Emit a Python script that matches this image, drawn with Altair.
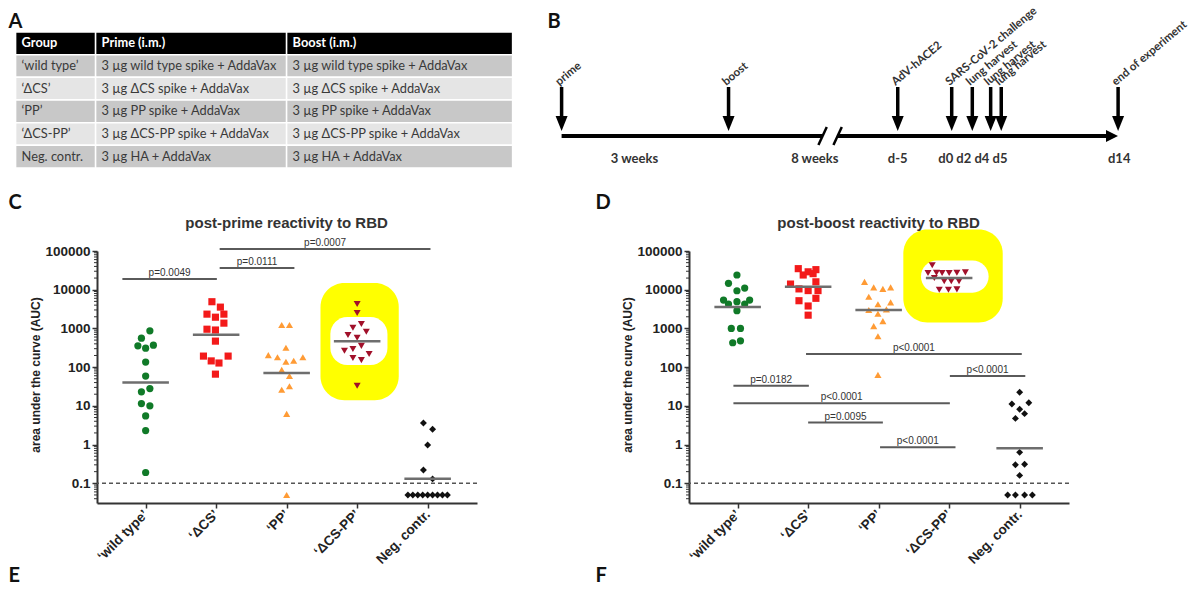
import json
import altair as alt
import pandas as pd

# ---------------- groups ----------------
GROUPS = ["‘wild type’", "‘ΔCS’", "‘PP’", "‘ΔCS-PP’", "Neg. contr."]
GROUP_COLORS = ["#107a28", "#f31a1a", "#ff9b35", "#a1102a", "#111111"]
GROUP_SHAPES = ["circle", "square", "triangle-up", "triangle-down", "diamond"]
GROUP_SIZES = [52, 48, 62, 62, 44]

# ---------------- panel C: post-prime AUC ----------------
PRIME_WT = [870, 560, 355, 310, 370, 135, 59, 28, 23, 11.5, 10, 5.5, 2.3, 0.19]
PRIME_WT_JIT = [0.06, -0.06, -0.11, 0.0, 0.11, 0.0, 0.0, 0.06, -0.06, -0.06, 0.06, 0.0, 0.0, 0.0]
PRIME_DCS = [4900, 3550, 2340, 1950, 2340, 1370, 955, 910, 470, 193, 145, 128, 193, 66]
PRIME_DCS_JIT = [-0.06, 0.06, -0.13, -0.01, 0.11, 0.11, -0.13, -0.01, -0.01, -0.18, -0.07, 0.04, 0.17, -0.01]
PRIME_PP = [1230, 1230, 316, 205, 180, 138, 146, 180, 85, 59, 32, 26, 6.2, 0.05]
PRIME_PP_JIT = [-0.07, 0.04, -0.01, -0.26, -0.13, -0.01, 0.10, 0.23, -0.07, 0.04, 0.04, -0.07, 0.0, 0.0]
PRIME_DCSPP = [4300, 2500, 1300, 1040, 820, 675, 575, 355, 265, 295, 218, 173, 152, 33]
PRIME_DCSPP_JIT = [0.0, 0.0, 0.06, -0.06, 0.13, -0.13, 0.0, 0.06, -0.18, -0.06, 0.17, -0.06, 0.06, 0.0]
PRIME_NEG = [3.6, 2.5, 0.98, 0.22, 0.13, 0.05, 0.05, 0.05, 0.05, 0.05, 0.05, 0.05, 0.05, 0.05]
PRIME_NEG_JIT = [-0.06, 0.07, 0.0, -0.06, 0.07, -0.28, -0.21, -0.14, -0.07, 0.0, 0.07, 0.14, 0.21, 0.28]

PRIME_SIG_FROM = [-0.33, 1.05, 1.05]
PRIME_SIG_TO = [1.01, 2.11, 4.04]
PRIME_SIG_Y = [18900, 36400, 112700]
PRIME_SIG_TEXT = ["p=0.0049", "p=0.0111", "p=0.0007"]

# ---------------- panel D: post-boost AUC ----------------
BOOST_WT = [24000, 14600, 11000, 9400, 5400, 4250, 4900, 4250, 5400, 2870, 1000, 1000, 427, 480]
BOOST_WT_JIT = [-0.01, -0.13, 0.10, -0.01, -0.20, -0.13, -0.01, 0.10, 0.17, -0.01, -0.09, 0.04, -0.07, 0.04]
BOOST_DCS = [35000, 29000, 33000, 24000, 26000, 14000, 16000, 10500, 9500, 9500, 5200, 6000, 3800, 2200]
BOOST_DCS_JIT = [-0.14, 0.0, 0.11, -0.07, 0.07, -0.25, 0.11, -0.13, 0.0, 0.14, -0.13, 0.11, 0.0, 0.0]
BOOST_PP = [16000, 11500, 10500, 11500, 6600, 4200, 4700, 3100, 3000, 2400, 1550, 1150, 630, 63]
BOOST_PP_JIT = [-0.20, -0.07, 0.06, 0.17, -0.14, -0.01, 0.17, 0.11, -0.14, -0.01, 0.06, -0.07, -0.01, -0.01]
BOOST_DCSPP = [43000, 27000, 27500, 27000, 27000, 27500, 28000, 20000, 16500, 16500, 16500, 10000, 10000, 10200]
BOOST_DCSPP_JIT = [-0.24, -0.30, -0.18, -0.10, 0.0, 0.11, 0.23, -0.21, -0.07, 0.03, 0.14, -0.14, -0.01, 0.11]
BOOST_NEG = [22.4, 11.2, 12, 8.2, 4.75, 6.3, 0.63, 0.3, 0.31, 0.16, 0.05, 0.05, 0.05, 0.05]
BOOST_NEG_JIT = [0.0, -0.11, 0.13, 0.0, -0.06, 0.07, 0.0, -0.06, 0.07, 0.0, -0.17, -0.06, 0.07, 0.18]

BOOST_SIG_FROM = [0.97, 3.01, -0.06, -0.06, 1.0, 2.02]
BOOST_SIG_TO = [4.03, 4.08, 1.01, 3.01, 2.06, 3.09]
BOOST_SIG_Y = [218, 59, 33, 11.7, 3.7, 0.85]
BOOST_SIG_TEXT = ["p<0.0001", "p<0.0001", "p=0.0182", "p<0.0001", "p=0.0095", "p<0.0001"]

# ---------------- table A ----------------
TABLE_HEADER = ["Group", "Prime (i.m.)", "Boost (i.m.)"]
TABLE_GROUP = ["‘wild type’", "‘ΔCS’", "‘PP’", "‘ΔCS-PP’", "Neg. contr."]
TABLE_PRIME = ["3 µg wild type spike + AddaVax", "3 µg ΔCS spike + AddaVax", "3 µg PP spike + AddaVax",
               "3 µg ΔCS-PP spike + AddaVax", "3 µg HA + AddaVax"]
TABLE_BOOST = ["3 µg wild type spike + AddaVax", "3 µg ΔCS spike + AddaVax", "3 µg PP spike + AddaVax",
               "3 µg ΔCS-PP spike + AddaVax", "3 µg HA + AddaVax"]

# ---------------- timeline B (schematic positions, 0 = prime, 100 = d14) ----------------
TL_EVENT_LABELS = ["prime", "boost", "AdV-hACE2", "SARS-CoV-2 challenge",
                   "lung harvest", "lung harvest", "lung harvest", "end of experiment"]
TL_EVENT_POS = [0.0, 30.0, 60.4, 70.1, 73.8, 77.1, 79.0, 100.0]
TL_SPAN_LABELS = ["3 weeks", "8 weeks", "d-5", "d0 d2 d4 d5", "d14"]
TL_SPAN_POS = [13.1, 45.5, 60.4, 73.9, 100.2]
TL_BREAK_POS = [46.9, 49.6]
TL_LINE_FROM = [0.0, 49.6]
TL_LINE_TO = [46.9, 98.0]
TL_TIP_POS = [98.9]

# ---------------- layout / style constants ----------------
W, H = 380, 252
X_DOMAIN = [-0.69, 4.7]
Y_DOMAIN = [0.031, 100000]
MAJOR_TICKS = [0.1, 1, 10, 100, 1000, 10000, 100000]
MINOR_TICKS = [m * 10.0 ** e for e in range(-2, 5) for m in range(2, 10)
               if Y_DOMAIN[0] <= m * 10.0 ** e <= Y_DOMAIN[1]]
HL_PRIME = dict(yx1=2.48, yx2=3.59, yy1=14, yy2=14900, wx1=2.62, wx2=3.43, wy1=113, wy2=1970)
HL_BOOST = dict(yx1=2.35, yx2=3.76, yy1=1420, yy2=359000, wx1=2.60, wx2=3.56, wy1=8400, wy2=57000)
COL_EDGES = [0, 80, 271, 497]
ROW_FILLS = ["#000000", "#c8c8c8", "#e5e5e5", "#c8c8c8", "#e5e5e5", "#c8c8c8"]
AXIS_FONT = "Liberation Sans"


def xs():
    return alt.Scale(domain=X_DOMAIN, nice=False, zero=False)


def ys():
    return alt.Scale(type="log", domain=Y_DOMAIN, nice=False)


X_AXIS = alt.Axis(values=[0, 1, 2, 3, 4],
                  labelExpr=json.dumps(GROUPS, ensure_ascii=False) + "[datum.value]",
                  labelAngle=315, labelAlign="right", labelBaseline="middle", labelPadding=4,
                  labelFont=AXIS_FONT, labelFontSize=13.5, labelFontWeight="bold", labelColor="#222",
                  labelFlush=False, labelOverlap=False,
                  tickSize=5, tickWidth=1.5, tickColor="#333",
                  domainColor="#333", domainWidth=2, grid=False, title=None)
Y_AXIS = alt.Axis(values=MAJOR_TICKS, format="~g",
                  labelFont=AXIS_FONT, labelFontSize=13.5, labelFontWeight="bold", labelColor="#222",
                  labelPadding=2, labelFlush=False, labelOverlap=False,
                  tickSize=5, tickWidth=1.5, tickColor="#333",
                  domainColor="#333", domainWidth=2, grid=False, title=None)


def group_frame(value_lists, jitter_lists):
    rows = []
    for gi, (vals, jits) in enumerate(zip(value_lists, jitter_lists)):
        for v, j in zip(vals, jits):
            rows.append({"group": GROUPS[gi], "gidx": gi, "value": v, "jitter": j})
    return pd.DataFrame(rows)


def sig_frame(a, b, y, t):
    return pd.DataFrame({"x1": a, "x2": b, "y": y, "label": t})


def text_at(text, x, y, **kw):
    return alt.Chart(pd.DataFrame({"t": [text]})).mark_text(**kw).encode(
        text="t:N", x=alt.value(x), y=alt.value(y))


def letter(t, x, y):
    return text_at(t, x, y, font="Lato", fontWeight="bold", fontSize=20, color="#111",
                   align="left", baseline="top")


def dot_layers(df, sig, hl, title):
    hl_df = pd.DataFrame([hl])
    yellow = alt.Chart(hl_df).mark_rect(color="#ffff00", cornerRadius=24).encode(
        x=alt.X("yx1:Q", scale=xs(), axis=None), x2="yx2:Q",
        y=alt.Y("yy1:Q", scale=ys(), axis=None), y2="yy2:Q")
    white = alt.Chart(hl_df).mark_rect(color="#ffffff", cornerRadius=17).encode(
        x=alt.X("wx1:Q", scale=xs(), axis=None), x2="wx2:Q",
        y=alt.Y("wy1:Q", scale=ys(), axis=None), y2="wy2:Q")
    dashed = alt.Chart(pd.DataFrame({"v": [0.1]})).mark_rule(
        color="#555", strokeDash=[4, 3], strokeWidth=1.5).encode(
        y=alt.Y("v:Q", scale=ys(), axis=None))
    minor = alt.Chart(pd.DataFrame({"v": MINOR_TICKS})).mark_rule(color="#333", strokeWidth=1).encode(
        y=alt.Y("v:Q", scale=ys(), axis=None), x=alt.value(-3), x2=alt.value(0))
    points = alt.Chart(df).transform_calculate(xj="datum.gidx + datum.jitter").mark_point(
        filled=True, opacity=1, strokeWidth=0).encode(
        x=alt.X("xj:Q", scale=xs(), axis=X_AXIS),
        y=alt.Y("value:Q", scale=ys(), axis=Y_AXIS),
        color=alt.Color("group:N", scale=alt.Scale(domain=GROUPS, range=GROUP_COLORS), legend=None),
        shape=alt.Shape("group:N", scale=alt.Scale(domain=GROUPS, range=GROUP_SHAPES), legend=None),
        size=alt.Size("group:N", scale=alt.Scale(domain=GROUPS, range=GROUP_SIZES), legend=None))
    means = alt.Chart(df).transform_calculate(lv="log(datum.value) / LN10").transform_aggregate(
        m="mean(lv)", groupby=["gidx"]).transform_calculate(
        gm="pow(10, datum.m)", xa="datum.gidx - 0.33", xb="datum.gidx + 0.33").mark_rule(
        color="#6e6e6e", strokeWidth=2.5).encode(
        x=alt.X("xa:Q", scale=xs(), axis=None), x2="xb:Q",
        y=alt.Y("gm:Q", scale=ys(), axis=None))
    bars = alt.Chart(sig).mark_rule(color="#5a5a5a", strokeWidth=2).encode(
        x=alt.X("x1:Q", scale=xs(), axis=None), x2="x2:Q",
        y=alt.Y("y:Q", scale=ys(), axis=None))
    bar_text = alt.Chart(sig).transform_calculate(xm="(datum.x1 + datum.x2) / 2").mark_text(
        font=AXIS_FONT, fontSize=10, color="#333", dy=-3, baseline="alphabetic").encode(
        x=alt.X("xm:Q", scale=xs(), axis=None), y=alt.Y("y:Q", scale=ys(), axis=None), text="label:N")
    ttl = text_at(title, 189.6, -28, font=AXIS_FONT, fontWeight="bold", fontSize=15, color="#333",
                  align="center", baseline="middle")
    ytitle = text_at("area under the curve (AUC)", -61, 124, font=AXIS_FONT, fontWeight="bold",
                     fontSize=12, color="#222", angle=270, align="center", baseline="middle")
    return [yellow, white, dashed, minor, points, means, bars, bar_text, ttl, ytitle]


# ---------- table (in panel C frame) ----------
trows = []
cells = [TABLE_HEADER] + [list(r) for r in zip(TABLE_GROUP, TABLE_PRIME, TABLE_BOOST)]
for r, row in enumerate(cells):
    for c, txt in enumerate(row):
        trows.append({"x0": COL_EDGES[c], "x1": COL_EDGES[c + 1], "r0": r, "r1": r + 1, "rm": r + 0.5,
                      "text": txt, "head": 1 if r == 0 else 0, "bg": ROW_FILLS[r]})
tdf = pd.DataFrame(trows)


def tx():
    return alt.Scale(domain=[0, 497], range=[-81.4, 415.6], nice=False, zero=False)


def ty():
    return alt.Scale(domain=[0, 6], range=[-219, -83], nice=False, zero=False)


t_rect = alt.Chart(tdf).mark_rect(stroke="white", strokeWidth=1.5).encode(
    x=alt.X("x0:Q", scale=tx(), axis=None), x2="x1:Q",
    y=alt.Y("r0:Q", scale=ty(), axis=None), y2="r1:Q",
    fill=alt.Fill("bg:N", scale=None))
t_body = alt.Chart(tdf).transform_filter("datum.head == 0").mark_text(
    align="left", baseline="middle", dx=6, font="Lato", fontSize=12.8, color="#3a3a3a").encode(
    x=alt.X("x0:Q", scale=tx(), axis=None), y=alt.Y("rm:Q", scale=ty(), axis=None), text="text:N")
t_head = alt.Chart(tdf).transform_filter("datum.head == 1").mark_text(
    align="left", baseline="middle", dx=6, font="Lato", fontSize=12.8, fontWeight="bold", color="#fff").encode(
    x=alt.X("x0:Q", scale=tx(), axis=None), y=alt.Y("rm:Q", scale=ty(), axis=None), text="text:N")
table_layers = [t_rect, t_body, t_head]


# ---------- timeline (in panel D frame) ----------
def tlx():
    return alt.Scale(domain=[0, 100], range=[-127.4, 429.1], nice=False, zero=False)


seg_df = pd.DataFrame({"a": TL_LINE_FROM, "b": TL_LINE_TO})
brk_df = pd.DataFrame({"p": TL_BREAK_POS})
ev_df = pd.DataFrame({"p": TL_EVENT_POS, "label": TL_EVENT_LABELS})
span_df = pd.DataFrame({"p": TL_SPAN_POS, "label": TL_SPAN_LABELS})
tip_df = pd.DataFrame({"p": TL_TIP_POS})
tl_line = alt.Chart(seg_df).mark_rule(color="black", strokeWidth=4).encode(
    x=alt.X("a:Q", scale=tlx(), axis=None), x2="b:Q", y=alt.value(-115))
tl_brk = alt.Chart(brk_df).transform_calculate(a="datum.p - 0.75", b="datum.p + 0.75").mark_rule(
    color="black", strokeWidth=2.5).encode(
    x=alt.X("a:Q", scale=tlx(), axis=None), x2="b:Q", y=alt.value(-106), y2=alt.value(-124))
tl_tip = alt.Chart(tip_df).mark_point(shape="M-1,-1L1,0L-1,1Z", size=144, filled=True, color="black",
                                      opacity=1, strokeWidth=0).encode(
    x=alt.X("p:Q", scale=tlx(), axis=None), y=alt.value(-115))
tl_shaft = alt.Chart(ev_df).mark_rule(color="black", strokeWidth=3.5).encode(
    x=alt.X("p:Q", scale=tlx(), axis=None), y=alt.value(-164), y2=alt.value(-133))
tl_head = alt.Chart(ev_df).mark_point(shape="M-0.8,-1L0.8,-1L0,1Z", size=225, filled=True, color="black",
                                      opacity=1, strokeWidth=0).encode(
    x=alt.X("p:Q", scale=tlx(), axis=None), y=alt.value(-127.5))
tl_ev = alt.Chart(ev_df).mark_text(angle=320, align="left", baseline="alphabetic", dx=-3, font="Lato",
                                   fontWeight="bold", fontSize=11.5, color="#333").encode(
    x=alt.X("p:Q", scale=tlx(), axis=None), y=alt.value(-167), text="label:N")
tl_span = alt.Chart(span_df).mark_text(align="center", baseline="middle", font="Lato", fontWeight="bold",
                                       fontSize=13, color="#333").encode(
    x=alt.X("p:Q", scale=tlx(), axis=None), y=alt.value(-92), text="label:N")
timeline_layers = [tl_line, tl_brk, tl_tip, tl_shaft, tl_head, tl_ev, tl_span]

# invisible frame anchor: pins the top edge of the figure's bounding box
frame_anchor = alt.Chart(pd.DataFrame({"k": [0]})).mark_rect(opacity=0).encode(
    x=alt.value(0), x2=alt.value(4), y=alt.value(-251), y2=alt.value(-249))

# ---------- panels ----------
prime_df = group_frame([PRIME_WT, PRIME_DCS, PRIME_PP, PRIME_DCSPP, PRIME_NEG],
                       [PRIME_WT_JIT, PRIME_DCS_JIT, PRIME_PP_JIT, PRIME_DCSPP_JIT, PRIME_NEG_JIT])
boost_df = group_frame([BOOST_WT, BOOST_DCS, BOOST_PP, BOOST_DCSPP, BOOST_NEG],
                       [BOOST_WT_JIT, BOOST_DCS_JIT, BOOST_PP_JIT, BOOST_DCSPP_JIT, BOOST_NEG_JIT])

left_layers = ([frame_anchor]
               + dot_layers(prime_df, sig_frame(PRIME_SIG_FROM, PRIME_SIG_TO, PRIME_SIG_Y, PRIME_SIG_TEXT),
                            HL_PRIME, "post-prime reactivity to RBD")
               + table_layers
               + [letter("A", -88.4, -239), letter("C", -88.4, -58), letter("E", -88.4, 315)])
right_layers = (dot_layers(boost_df, sig_frame(BOOST_SIG_FROM, BOOST_SIG_TO, BOOST_SIG_Y, BOOST_SIG_TEXT),
                           HL_BOOST, "post-boost reactivity to RBD")
                + timeline_layers
                + [letter("B", -141.4, -239), letter("D", -93.4, -58), letter("F", -93.4, 315)])

left = alt.layer(*left_layers).resolve_scale(x="independent", y="independent").properties(width=W, height=H)
right = alt.layer(*right_layers).resolve_scale(x="independent", y="independent").properties(width=W, height=H)

chart = alt.hconcat(left, right, spacing=212, bounds="flush").properties(
    padding={"left": 0, "top": -8, "right": 2, "bottom": 0}
).configure_view(stroke=None)

chart.save("out.html", embed_options={"renderer": "svg", "actions": False})
